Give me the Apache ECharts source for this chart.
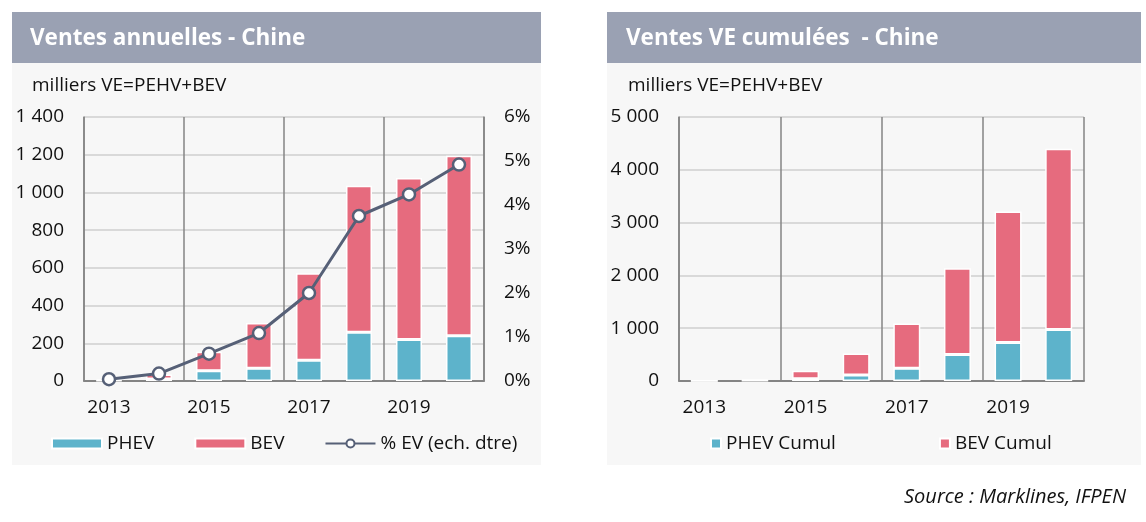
<!DOCTYPE html>
<html>
<head>
<meta charset="utf-8">
<script src="https://cdn.jsdelivr.net/npm/echarts@6/dist/echarts.min.js"></script>
<style>
html,body{margin:0;padding:0;background:#fff;}
#c{width:1146px;height:522px;}
</style>
</head>
<body>
<div id="c"></div>
<script>
var years = ['2013','2014','2015','2016','2017','2018','2019','2020'];
var phevAnnual = [2, 10, 55, 67, 110, 258, 220, 240];
var bevAnnual = [6, 25, 100, 240, 462, 777, 857, 955];
var pctEV = [0.04, 0.17, 0.62, 1.09, 2.0, 3.75, 4.24, 4.92];
var phevCumul = [2, 8, 44, 114, 240, 500, 728, 975];
var bevCumul = [5, 22, 152, 405, 849, 1637, 2484, 3425];
var leftTicks = {min: 0, max: 1400, interval: 200};
var pctTicks = {min: 0, max: 6, interval: 1};
var rightTicks = {min: 0, max: 5000, interval: 1000};

var FONT = 'Open Sans';
var FS = 19;
var PHEV_C = '#5db3cb', BEV_C = '#e66b7e', LINE_C = '#566077';
var GRID_C = '#d9d9d9', VLINE_C = '#848484';

function thousands(v){ return String(v).replace(/\B(?=(\d{3})+(?!\d))/g, ' '); }

var chart = echarts.init(document.getElementById('c'));

function xAxisCfg(gi){
  return {
    type: 'category', gridIndex: gi, data: years, boundaryGap: true,
    axisLine: {show: true, lineStyle: {color: VLINE_C, width: 2}},
    axisTick: {show: false},
    axisLabel: {interval: 1, margin: 17, fontFamily: FONT, fontSize: FS, color: '#111'},
    splitLine: {show: true, interval: 1, lineStyle: {color: VLINE_C, width: 1.5}}
  };
}
function yAxisCfg(gi, t, pos, fmt){
  return {
    type: 'value', gridIndex: gi, position: pos, min: t.min, max: t.max, interval: t.interval,
    axisLine: {show: true, lineStyle: {color: VLINE_C, width: 1.5}},
    axisTick: {show: false},
    axisLabel: {margin: 20, fontFamily: FONT, fontSize: FS, color: '#111', formatter: fmt},
    splitLine: {show: pos === 'left', lineStyle: {color: GRID_C, width: 2}}
  };
}

var option = {
  animation: false,
  backgroundColor: '#ffffff',
  graphic: [
    {type: 'rect', shape: {x: 12, y: 12, width: 529, height: 453}, style: {fill: '#f7f7f7'}, z: -10},
    {type: 'rect', shape: {x: 12, y: 12, width: 529, height: 51}, style: {fill: '#9aa1b3'}, z: -9},
    {type: 'rect', shape: {x: 607, y: 12, width: 534, height: 453}, style: {fill: '#f7f7f7'}, z: -10},
    {type: 'rect', shape: {x: 607, y: 12, width: 534, height: 51}, style: {fill: '#9aa1b3'}, z: -9},
    {type: 'text', x: 30, y: 39, style: {text: 'Ventes annuelles - Chine', fill: '#fff', font: 'bold 22.5px "Open Sans"', verticalAlign: 'middle'}},
    {type: 'text', x: 626, y: 39, style: {text: 'Ventes VE cumulées  - Chine', fill: '#fff', font: 'bold 22.5px "Open Sans"', verticalAlign: 'middle'}},
    {type: 'text', x: 32, y: 86, style: {text: 'milliers VE=PEHV+BEV', fill: '#111', font: '19px "Open Sans"', verticalAlign: 'middle'}},
    {type: 'text', x: 628, y: 86, style: {text: 'milliers VE=PEHV+BEV', fill: '#111', font: '19px "Open Sans"', verticalAlign: 'middle'}},
    {type: 'text', x: 1126, y: 497, style: {text: 'Source : Marklines, IFPEN', fill: '#111', font: 'italic 20px "Open Sans"', align: 'right', verticalAlign: 'middle'}}
  ],
  grid: [
    {left: 84, top: 117, width: 400, height: 264},
    {left: 679, top: 117, width: 405, height: 264}
  ],
  xAxis: [xAxisCfg(0), xAxisCfg(1)],
  yAxis: [
    yAxisCfg(0, leftTicks, 'left', thousands),
    yAxisCfg(0, pctTicks, 'right', '{value}%'),
    yAxisCfg(1, rightTicks, 'left', thousands)
  ],
  legend: [
    {left: 51, top: 434, padding: 0, itemWidth: 50, itemHeight: 10, itemGap: 40,
     textStyle: {fontFamily: FONT, fontSize: FS, color: '#111'},
     data: [{name: 'PHEV', icon: 'rect'}, {name: 'BEV', icon: 'rect'}, {name: '% EV (ech. dtre)'}]},
    {left: 710, top: 434, padding: 0, itemWidth: 10, itemHeight: 10, itemGap: 103,
     textStyle: {fontFamily: FONT, fontSize: FS, color: '#111'},
     data: [{name: 'PHEV Cumul', icon: 'rect'}, {name: 'BEV Cumul', icon: 'rect'}]}
  ],
  series: [
    {name: 'PHEV', type: 'bar', stack: 'a', xAxisIndex: 0, yAxisIndex: 0, barWidth: 26, data: phevAnnual,
     itemStyle: {color: PHEV_C, borderColor: '#fff', borderWidth: 1.5}},
    {name: 'BEV', type: 'bar', stack: 'a', xAxisIndex: 0, yAxisIndex: 0, barWidth: 26, data: bevAnnual,
     itemStyle: {color: BEV_C, borderColor: '#fff', borderWidth: 1.5}},
    {name: '% EV (ech. dtre)', type: 'line', xAxisIndex: 0, yAxisIndex: 1, data: pctEV, z: 5,
     symbol: 'circle', symbolSize: 12,
     lineStyle: {color: LINE_C, width: 3},
     itemStyle: {color: '#fff', borderColor: LINE_C, borderWidth: 2.5}},
    {name: 'PHEV Cumul', type: 'bar', stack: 'b', xAxisIndex: 1, yAxisIndex: 2, barWidth: 27, data: phevCumul,
     itemStyle: {color: PHEV_C, borderColor: '#fff', borderWidth: 1.5}},
    {name: 'BEV Cumul', type: 'bar', stack: 'b', xAxisIndex: 1, yAxisIndex: 2, barWidth: 27, data: bevCumul,
     itemStyle: {color: BEV_C, borderColor: '#fff', borderWidth: 1.5}}
  ]
};
chart.setOption(option);
</script>
</body>
</html>
